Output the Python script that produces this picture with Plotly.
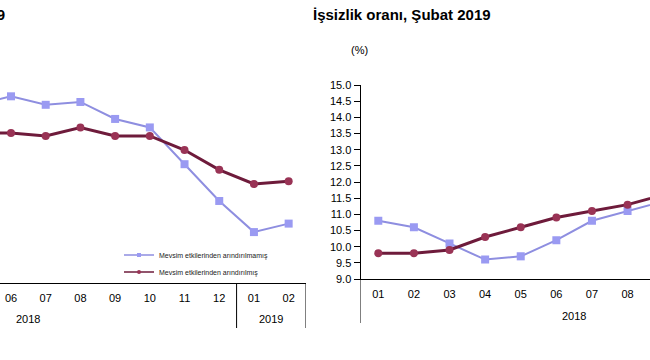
import plotly.graph_objects as go

# ---- data ----
years = ["2018"] * 12 + ["2019"] * 2
months = ["01", "02", "03", "04", "05", "06", "07", "08", "09", "10", "11", "12", "01", "02"]
periods = [f"{y}-{m}" for y, m in zip(years, months)]

# left chart (partially visible)
left_nsa = [45.6, 45.9, 46.6, 47.5, 48.3, 48.6, 48.3, 48.4, 47.8, 47.5, 46.2, 44.9, 43.8, 44.1]
left_sa = [47.1, 47.2, 47.3, 47.3, 47.3, 47.3, 47.2, 47.5, 47.2, 47.2, 46.7, 46.0, 45.5, 45.6]

# right chart: İşsizlik oranı
right_nsa = [10.8, 10.6, 10.1, 9.6, 9.7, 10.2, 10.8, 11.1, 11.4, 11.6, 12.3, 13.5, 14.7, 14.7]
right_sa = [9.8, 9.8, 9.9, 10.3, 10.6, 10.9, 11.1, 11.3, 11.6, 12.0, 12.6, 13.1, 13.5, 13.5]

name_nsa = "Mevsim etkilerinden arındırılmamış"
name_sa = "Mevsim etkilerinden arındırılmış"

NSA_COLOR = "#9A9AF2"
NSA_LINE = "#8E8EE0"
SA_COLOR = "#993355"
SA_LINE = "#6E1B3B"
FONT = "Arial, Liberation Sans, sans-serif"

W, H = 650, 360

fig = go.Figure()

def add_pair(nsa, sa, xa, ya):
    fig.add_trace(go.Scatter(x=periods, y=nsa, name=name_nsa, xaxis=xa, yaxis=ya,
                             mode="lines+markers", showlegend=False,
                             line=dict(color=NSA_LINE, width=2),
                             marker=dict(symbol="square", size=8, color=NSA_COLOR)))
    fig.add_trace(go.Scatter(x=periods, y=sa, name=name_sa, xaxis=xa, yaxis=ya,
                             mode="lines+markers", showlegend=False,
                             line=dict(color=SA_LINE, width=3),
                             marker=dict(symbol="circle", size=8, color=SA_COLOR)))

add_pair(left_nsa, left_sa, "x", "y")
add_pair(right_nsa, right_sa, "x2", "y2")

# legend-only entries (smaller symbols, as in the reference key)
fig.add_trace(go.Scatter(x=[None], y=[None], name=name_nsa, mode="lines+markers",
                         legend="legend",
                         line=dict(color=NSA_LINE, width=1.5),
                         marker=dict(symbol="square", size=4, color=NSA_COLOR)))
fig.add_trace(go.Scatter(x=[None], y=[None], name=name_sa, mode="lines+markers",
                         legend="legend2",
                         line=dict(color=SA_LINE, width=1.5),
                         marker=dict(symbol="circle", size=4, color=SA_COLOR)))

xcommon = dict(type="category", showline=True, linecolor="black", linewidth=1,
               ticks="outside", ticklen=5, tickcolor="rgba(0,0,0,0)",
               tickvals=periods, ticktext=months,
               showgrid=False, zeroline=False, automargin=False,
               tickfont=dict(family=FONT, size=11, color="black"))

leg = dict(xanchor="left", yanchor="middle",
           font=dict(family=FONT, size=7, color="#222222"),
           bgcolor="rgba(0,0,0,0)", itemwidth=30)

# year groups: dividers and labels (positions derived from category indices)
groups = {}
for i, y in enumerate(years):
    groups.setdefault(y, []).append(i)

shapes, annotations = [], []
for xa, ya, depth, label_off in (("x", "y", 45 / 198, 36 / 198), ("x2", "y2", 44 / 194, 37 / 194)):
    bounds = sorted({g[0] - 0.5 for g in groups.values()} | {g[-1] + 0.5 for g in groups.values()})
    for b in bounds:
        shapes.append(dict(type="line", xref=xa, yref=f"{ya} domain", x0=b, x1=b,
                           y0=0, y1=-depth, line=dict(color="black", width=1)))
    for yr, idx in groups.items():
        annotations.append(dict(text=yr, xref=xa, yref=f"{ya} domain",
                                x=(idx[0] + idx[-1]) / 2, y=-label_off,
                                xanchor="center", yanchor="middle", showarrow=False,
                                font=dict(family=FONT, size=11, color="black")))

annotations += [
    dict(text="<b>İstihdam oranı, Şubat 2019</b>", x=7 / W, y=1 - 15 / H,
         xref="paper", yref="paper", xanchor="right", yanchor="middle",
         showarrow=False, font=dict(family=FONT, size=15, color="black")),
    dict(text="<b>İşsizlik oranı, Şubat 2019</b>", x=311 / W, y=1 - 15 / H,
         xref="paper", yref="paper", xanchor="left", yanchor="middle",
         showarrow=False, font=dict(family=FONT, size=15, color="black")),
    dict(text="(%)", x=359 / W, y=1 - 50 / H,
         xref="paper", yref="paper", xanchor="center", yanchor="middle",
         showarrow=False, font=dict(family=FONT, size=11, color="black")),
]

fig.update_layout(
    width=W, height=H,
    margin=dict(l=0, r=0, t=0, b=0, autoexpand=False),
    paper_bgcolor="white", plot_bgcolor="white",
    font=dict(family=FONT, color="black"),
    xaxis=dict(domain=[0, 306 / W], range=[4.683, 13.5], anchor="y", **xcommon),
    yaxis=dict(domain=[1 - 283 / H, 1 - 85 / H], range=[42, 49], visible=False,
               anchor="x", automargin=False),
    xaxis2=dict(domain=[360.5 / W, 1], range=[-0.5, 7.63], anchor="y2", **xcommon),
    yaxis2=dict(domain=[1 - 279 / H, 1 - 85 / H], range=[9, 15], anchor="x2",
                showline=True, linecolor="black", linewidth=1, ticks="outside",
                ticklen=6, tickcolor="black", dtick=0.5, tickformat=".1f",
                showgrid=False, zeroline=False, automargin=False,
                tickfont=dict(family=FONT, size=11, color="black")),
    legend=dict(x=119 / W, y=1 - 255 / H, **leg),
    legend2=dict(x=119 / W, y=1 - 272 / H, **leg),
    shapes=shapes,
    annotations=annotations,
)

fig.write_html("out.html", config={"displayModeBar": False},
               post_script="document.body.style.margin='0';")
